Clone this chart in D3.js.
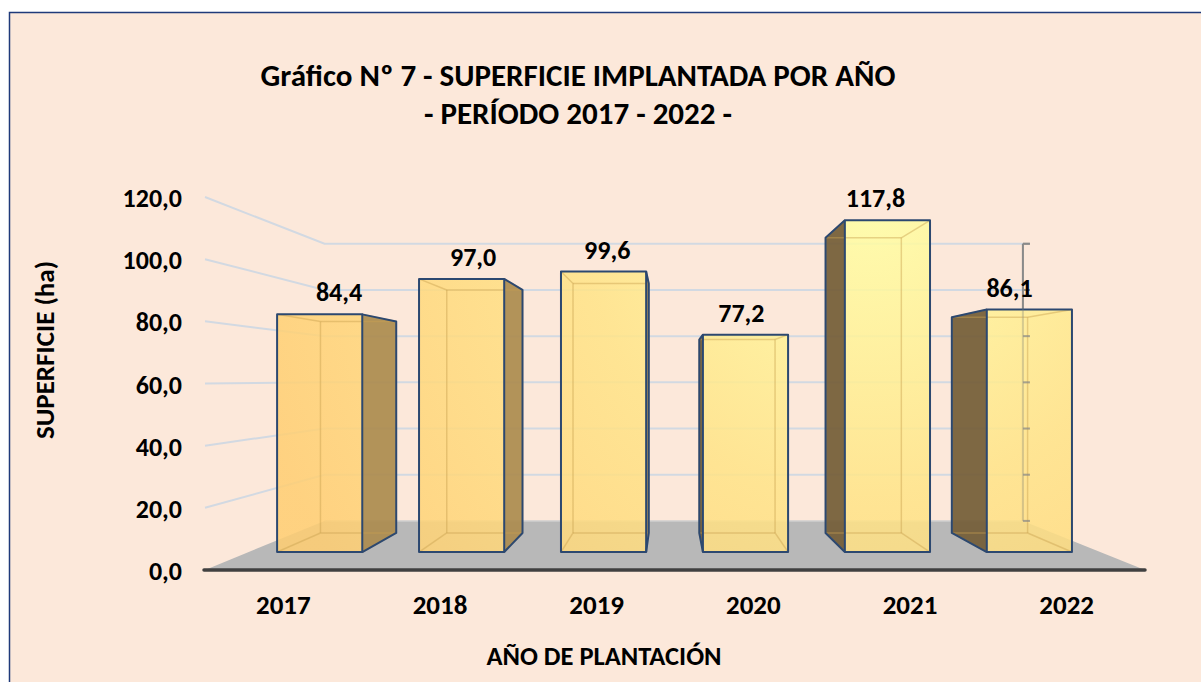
<!DOCTYPE html>
<html><head><meta charset="utf-8">
<script src="https://cdn.jsdelivr.net/npm/d3@7"></script>
<style>html,body{margin:0;padding:0;background:#fff;}svg{display:block;}</style>
</head><body>
<script>
// ---- data ----
const years = ["2017", "2018", "2019", "2020", "2021", "2022"];
const values = [84.4, 97.0, 99.6, 77.2, 117.8, 86.1];
const yTicks = [0, 20, 40, 60, 80, 100, 120];
const titleLines = ["Gráfico Nº 7 - SUPERFICIE IMPLANTADA POR AÑO", "- PERÍODO 2017 - 2022 -"];
const yTitle = "SUPERFICIE (ha)";
const xTitle = "AÑO DE PLANTACIÓN";

const W = 1201, H = 682;
const FONT = "Carlito, Lato, 'Open Sans', sans-serif";
const fmt = v => d3.format(".1f")(v).replace(".", ",");

const svg = d3.select("body").append("svg").attr("width", W).attr("height", H);

// scales (front plane)
const x = d3.scaleBand().domain(years).range([205, 1145]).paddingInner(0.4).paddingOuter(0.2);
const y = d3.scaleLinear().domain([0, 120]).range([570, 197]);

// perspective
const VX = 670, VY = 379;
const S_FRONT = 0.906, S_BACK = 0.806, S_WALL = 0.743, S_LABEL = 0.856;
const proj = (px, py, s) => [VX + s * (px - VX), VY + s * (py - VY)];

// defs
const defs = svg.append("defs");
const rg = defs.append("radialGradient").attr("id", "barGrad")
  .attr("gradientUnits", "userSpaceOnUse").attr("cx", 870).attr("cy", 210).attr("r", 640);
rg.append("stop").attr("offset", 0).attr("stop-color", "#FFFFA6");
rg.append("stop").attr("offset", 0.45).attr("stop-color", "#FFE488");
rg.append("stop").attr("offset", 1).attr("stop-color", "#FFCE72");

// background frame
svg.append("rect").attr("x", 9.5).attr("y", 12.5).attr("width", W + 20).attr("height", H + 20)
  .attr("fill", "#FCE8DA").attr("stroke", "#1F3A7A").attr("stroke-width", 1.5);

const x0 = x.range()[0], x1 = x.range()[1];

// gridlines: left wall and back wall
const grid = svg.append("g").attr("stroke", "#D2D9E2").attr("stroke-width", 2).attr("fill", "none");
yTicks.filter(t => t > 0).forEach(t => {
  const a = proj(x0, y(t), 1), b = proj(x0, y(t), S_WALL), c = proj(x1, y(t), S_WALL);
  grid.append("polyline").attr("points", [a, b, c].map(p => p.join(",")).join(" "));
});

// floor
const f1 = proj(x0, y(0), 1), f2 = proj(x1, y(0), 1), f3 = proj(x1, y(0), S_WALL), f4 = proj(x0, y(0), S_WALL);
svg.append("polygon").attr("points", [f1, f2, f3, f4].map(p => p.join(",")).join(" ")).attr("fill", "#B8B8B8");
svg.append("line").attr("x1", f4[0]).attr("y1", f4[1]).attr("x2", f3[0]).attr("y2", f3[1])
  .attr("stroke", "#CFCFCF").attr("stroke-width", 1.5);
svg.append("line").attr("x1", f1[0] - 1).attr("y1", f1[1]).attr("x2", f2[0]).attr("y2", f2[1])
  .attr("stroke", "#404040").attr("stroke-width", 3.5).attr("stroke-linecap", "round");

// right wall axis
const rTop = proj(x1, y(120), S_WALL), rBot = proj(x1, y(0), S_WALL);
function rightAxis(lineOp, tickOp) {
  const ra = svg.append("g").attr("stroke", "#8A8A8A").attr("stroke-width", 2);
  ra.append("line").attr("x1", rTop[0]).attr("y1", rTop[1]).attr("x2", rBot[0]).attr("y2", rBot[1])
    .attr("stroke-opacity", lineOp);
  yTicks.forEach(t => {
    const p = proj(x1, y(t), S_WALL);
    ra.append("line").attr("x1", p[0]).attr("y1", p[1]).attr("x2", p[0] + 7).attr("y2", p[1])
      .attr("stroke-opacity", tickOp);
  });
}
rightAxis(1, 1);

// bars
const bars = svg.append("g");
const labels = [];
years.forEach((yr, i) => {
  const v = values[i];
  const xl = x(yr), xr = x(yr) + x.bandwidth(), yt = y(v), yb = y(0);
  const FTL = proj(xl, yt, S_FRONT), FTR = proj(xr, yt, S_FRONT), FBL = proj(xl, yb, S_FRONT), FBR = proj(xr, yb, S_FRONT);
  const BTL = proj(xl, yt, S_BACK), BTR = proj(xr, yt, S_BACK), BBL = proj(xl, yb, S_BACK), BBR = proj(xr, yb, S_BACK);
  const centre = (xl + xr) / 2;
  const rightSide = centre < VX;
  const side = rightSide ? [FTR, BTR, BBR, FBR] : [FTL, BTL, BBL, FBL];
  const g = bars.append("g");
  const pts = a => a.map(p => p.join(",")).join(" ");
  g.append("polygon").attr("points", pts(side))
    .attr("fill", rightSide ? "#AB8B4E" : "#735C36").attr("fill-opacity", 0.92);
  g.append("polygon").attr("points", pts([FTL, FTR, FBR, FBL]))
    .attr("fill", "url(#barGrad)").attr("fill-opacity", 0.86);
  const hid = g.append("g").attr("stroke", "#C9A24F").attr("stroke-opacity", 0.45).attr("stroke-width", 1.5);
  [[BTL, BTR], [BTR, BBR], [BBR, BBL], [BBL, BTL], [FBL, BBL], [FBR, BBR], [FTL, BTL], [FTR, BTR]].forEach(e => {
    hid.append("line").attr("x1", e[0][0]).attr("y1", e[0][1]).attr("x2", e[1][0]).attr("y2", e[1][1]);
  });
  g.append("polygon").attr("points", pts([FTL, FTR, FBR, FBL]))
    .attr("fill", "none").attr("stroke", "#2C4870").attr("stroke-width", 2).attr("stroke-linejoin", "round");
  g.append("polyline").attr("points", pts(side))
    .attr("fill", "none").attr("stroke", "#2C4870").attr("stroke-width", 2).attr("stroke-linejoin", "round");
  const lp = proj(centre, yt, S_LABEL);
  const ft = proj(centre, yt, S_FRONT);
  labels.push({x: lp[0], y: ft[1] - 22, t: fmt(v)});
});

// right axis ticks seen through the bars
rightAxis(0.25, 0.7);

labels.forEach(l => {
  svg.append("text").attr("x", l.x).attr("y", l.y).attr("dy", "0.35em")
    .attr("text-anchor", "middle").attr("font-family", FONT).attr("font-weight", "bold")
    .attr("font-size", 26).attr("fill", "#000").text(l.t);
});

// y tick labels
const yl = svg.append("g").attr("font-family", FONT).attr("font-weight", "bold").attr("font-size", 26)
  .attr("text-anchor", "end").attr("fill", "#000");
yTicks.forEach(t => {
  yl.append("text").attr("x", 182).attr("y", y(t) + 1).attr("dy", "0.35em").text(fmt(t));
});

// x labels
const xl = svg.append("g").attr("font-family", FONT).attr("font-weight", "bold").attr("font-size", 27)
  .attr("text-anchor", "middle").attr("fill", "#000");
years.forEach(yr => {
  xl.append("text").attr("x", x(yr) + x.bandwidth() / 2).attr("y", 605).attr("dy", "0.35em").text(yr);
});

// titles
titleLines.forEach((t, i) => {
  svg.append("text").attr("x", 578).attr("y", 75 + i * 38).attr("dy", "0.35em")
    .attr("text-anchor", "middle").attr("font-family", FONT).attr("font-weight", "bold")
    .attr("font-size", 31).attr("fill", "#000").text(t);
});
svg.append("text").attr("transform", "translate(45,350) rotate(-90)").attr("dy", "0.35em")
  .attr("text-anchor", "middle").attr("font-family", FONT).attr("font-weight", "bold")
  .attr("font-size", 27).attr("fill", "#000").text(yTitle);
svg.append("text").attr("x", 604).attr("y", 656).attr("dy", "0.35em")
  .attr("text-anchor", "middle").attr("font-family", FONT).attr("font-weight", "bold")
  .attr("font-size", 26.5).attr("fill", "#000").text(xTitle);
</script>
</body></html>
